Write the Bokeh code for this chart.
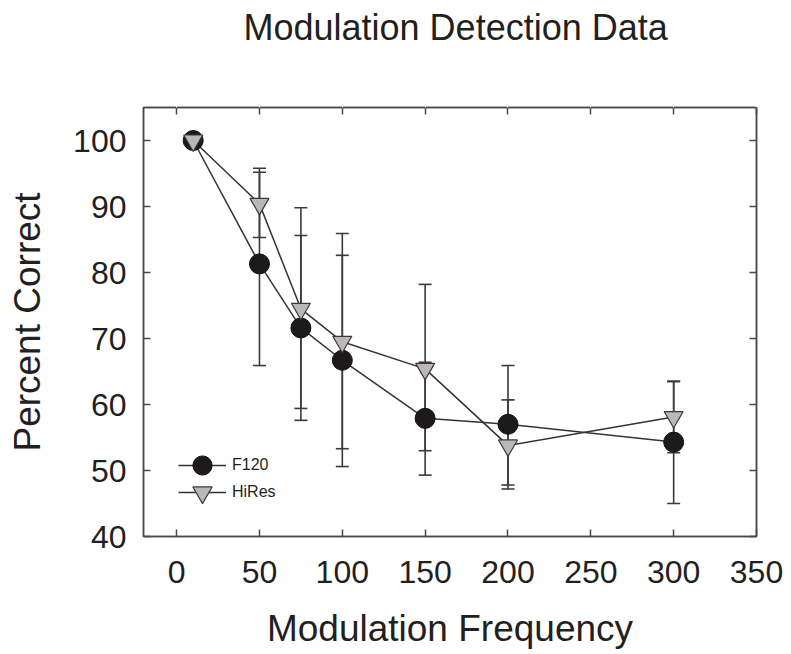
from bokeh.plotting import figure
from bokeh.models import (Range1d, FixedTicker, LinearAxis, Whisker, TeeHead,
                          ColumnDataSource, Legend, LegendItem)
from bokeh.embed import file_html
from bokeh.resources import INLINE

# ---- data ----
freq = [10, 50, 75, 100, 150, 200, 300]
f120 = [100, 81.3, 71.6, 66.7, 57.9, 57.0, 54.3]
f120_upper = [100, 95.2, 85.6, 82.6, 66.4, 65.9, 63.5]
f120_lower = [100, 65.9, 57.6, 50.6, 49.3, 47.8, 45.0]
hires = [100, 90.4, 74.5, 69.5, 65.4, 53.8, 58.1]
hires_upper = [100, 95.8, 89.8, 85.9, 78.2, 60.7, 63.5]
hires_lower = [100, 85.3, 59.4, 53.3, 53.0, 47.2, 52.7]
x_ticks = [0, 50, 100, 150, 200, 250, 300, 350]
y_ticks = [40, 50, 60, 70, 80, 90, 100]

FONT = "Liberation Sans"
TXT = "#231f20"
AX = "#4a4a4a"

p = figure(width=791, height=654, output_backend="svg", toolbar_location=None, tools="",
           x_range=Range1d(-20, 350), y_range=Range1d(40, 105),
           min_border_left=143, min_border_right=35, min_border_top=107, min_border_bottom=118,
           title="Modulation Detection Data")
p.background_fill_color = "white"
p.border_fill_color = "white"
p.outline_line_color = AX
p.outline_line_width = 1.5
p.xgrid.visible = False
p.ygrid.visible = False

p.title.align = "left"
p.title.offset = 100
p.title.text_font = FONT
p.title.text_font_size = "36px"
p.title.text_font_style = "normal"
p.title.text_color = TXT
p.title.standoff = 4

def style_axis(ax, labels=True):
    ax.axis_line_color = AX
    ax.axis_line_width = 1.5
    ax.major_tick_line_color = AX
    ax.major_tick_line_width = 1.5
    ax.major_tick_in = 7
    ax.major_tick_out = 0
    ax.minor_tick_line_color = None
    ax.minor_tick_out = 0
    ax.minor_tick_in = 0
    ax.major_label_text_font = FONT
    ax.axis_label_text_font = FONT
    ax.axis_label_text_font_style = "normal"
    ax.axis_label_text_color = TXT
    if labels:
        ax.major_label_text_color = TXT
        ax.major_label_text_font_size = "32px"
        ax.axis_label_text_font_size = "37px"
    else:
        ax.major_label_text_color = None
        ax.major_label_text_font_size = "1px"
        ax.major_label_standoff = 0

xa = p.xaxis[0]
ya = p.yaxis[0]
xa.ticker = FixedTicker(ticks=x_ticks)
ya.ticker = FixedTicker(ticks=y_ticks)
style_axis(xa)
style_axis(ya)
xa.axis_label = "Modulation Frequency"
ya.axis_label = "Percent Correct"
xa.major_label_standoff = 24
xa.axis_label_standoff = 22
ya.major_label_standoff = 17
ya.axis_label_standoff = 22

top = LinearAxis(ticker=FixedTicker(ticks=x_ticks))
right = LinearAxis(ticker=FixedTicker(ticks=y_ticks))
style_axis(top, labels=False)
style_axis(right, labels=False)
p.add_layout(top, "above")
p.add_layout(right, "right")

# invisible spacer (white outward ticks on a white border) between the top tick axis and the title
spacer = LinearAxis(ticker=FixedTicker(ticks=x_ticks), axis_line_color=None,
                    major_tick_line_color="white", major_tick_line_width=1,
                    minor_tick_line_color=None,
                    major_tick_out=58, major_tick_in=0, minor_tick_out=0, minor_tick_in=0,
                    major_label_text_color=None, major_label_text_font_size="1px",
                    major_label_standoff=0)
p.add_layout(spacer, "above")

src_f = ColumnDataSource(dict(x=freq, y=f120, up=f120_upper, lo=f120_lower))
src_h = ColumnDataSource(dict(x=freq, y=hires, up=hires_upper, lo=hires_lower))

for src in (src_f, src_h):
    w = Whisker(source=src, base="x", upper="up", lower="lo", dimension="height",
                line_color="#3a3a3a", line_width=1.6, level="underlay",
                upper_head=TeeHead(size=13, line_color="#3a3a3a", line_width=1.6),
                lower_head=TeeHead(size=13, line_color="#3a3a3a", line_width=1.6))
    p.add_layout(w)

lf = p.line("x", "y", source=src_f, line_color="#333333", line_width=1.5)
lh = p.line("x", "y", source=src_h, line_color="#333333", line_width=1.5)
mf = p.scatter("x", "y", source=src_f, marker="circle", size=20,
               fill_color="#1c1a1b", line_color="#111111", line_width=1)
mh = p.scatter("x", "y", source=src_h, marker="inverted_triangle", size=19,
               fill_color="#bdb6b6", line_color="#3a3a3a", line_width=1.2)

leg_style = dict(glyph_width=48, glyph_height=48, label_height=48,
                 spacing=0, padding=0, margin=0, label_standoff=6,
                 border_line_color=None, background_fill_alpha=0,
                 label_text_font=FONT, label_text_font_size="16px", label_text_color=TXT)
legend1 = Legend(items=[LegendItem(label="F120", renderers=[lf, mf])],
                 location=(35, 47), **leg_style)
legend2 = Legend(items=[LegendItem(label="HiRes", renderers=[lh, mh])],
                 location=(35, 20), **leg_style)
p.add_layout(legend1, "center")
p.add_layout(legend2, "center")

open("out.html", "w").write(file_html(p, INLINE))
